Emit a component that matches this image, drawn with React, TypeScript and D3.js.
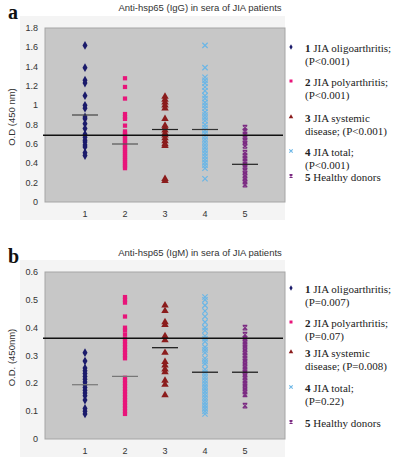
import * as d3 from "d3";
import { useEffect, useRef } from "react";

// group labels on the x axis
const groups = [1, 2, 3, 4, 5];
const groupColors = ["#1b1b6b", "#e8157a", "#8b1c1c", "#6bb6e6", "#7b2a82"];

// panel a: IgG
const igg1 = [1.62, 1.39, 1.26, 1.23, 1.1, 1.0, 0.97, 0.88, 0.86, 0.81, 0.76, 0.7, 0.67, 0.64, 0.62, 0.59, 0.57, 0.51, 0.48];
const igg2 = [1.28, 1.19, 1.07, 0.91, 0.88, 0.86, 0.79, 0.73, 0.71, 0.69, 0.67, 0.65, 0.63, 0.61, 0.59, 0.57, 0.55, 0.53, 0.51, 0.49, 0.47, 0.45, 0.43, 0.41, 0.39, 0.37, 0.35];
const igg3 = [1.09, 1.06, 1.03, 1.0, 0.97, 0.86, 0.79, 0.77, 0.74, 0.71, 0.69, 0.66, 0.63, 0.6, 0.58, 0.24, 0.22];
const igg4 = [1.62, 1.39, 1.29, 1.26, 1.23, 1.19, 1.15, 1.1, 1.07, 1.03, 1.0, 0.97, 0.93, 0.9, 0.87, 0.84, 0.8, 0.77, 0.74, 0.71, 0.68, 0.65, 0.62, 0.59, 0.56, 0.53, 0.5, 0.47, 0.44, 0.41, 0.38, 0.35, 0.24];
const igg5 = [0.77, 0.73, 0.7, 0.67, 0.64, 0.61, 0.58, 0.51, 0.48, 0.45, 0.42, 0.39, 0.36, 0.33, 0.3, 0.27, 0.24, 0.21, 0.18];
const iggMeans = [0.9, 0.6, 0.75, 0.75, 0.39];
const iggCutoff = 0.69;
const iggTicks = [0, 0.2, 0.4, 0.6, 0.8, 1, 1.2, 1.4, 1.6, 1.8];
const iggLegend = [
  ["1", " JIA oligoarthritis;", "(P<0.001)"],
  ["2", " JIA polyarthritis;", "(P<0.001)"],
  ["3", " JIA systemic", "disease; (P<0.001)"],
  ["4", " JIA total;", "(P<0.001)"],
  ["5", " Healthy donors"],
];

// panel b: IgM
const igm1 = [0.31, 0.28, 0.255, 0.245, 0.235, 0.225, 0.215, 0.205, 0.195, 0.185, 0.175, 0.165, 0.155, 0.14, 0.11, 0.1, 0.09];
const igm2 = [0.51, 0.5, 0.49, 0.44, 0.4, 0.39, 0.375, 0.36, 0.35, 0.34, 0.33, 0.32, 0.31, 0.3, 0.29, 0.22, 0.21, 0.2, 0.19, 0.18, 0.17, 0.16, 0.15, 0.14, 0.13, 0.12, 0.11, 0.1, 0.09];
const igm3 = [0.48, 0.46, 0.42, 0.41, 0.37, 0.355, 0.31, 0.277, 0.265, 0.25, 0.24, 0.21, 0.195, 0.158];
const igm4 = [0.51, 0.5, 0.48, 0.46, 0.44, 0.42, 0.4, 0.39, 0.37, 0.36, 0.35, 0.33, 0.32, 0.31, 0.29, 0.28, 0.27, 0.25, 0.24, 0.23, 0.22, 0.21, 0.2, 0.19, 0.18, 0.17, 0.16, 0.15, 0.14, 0.13, 0.12, 0.11, 0.1, 0.09];
const igm5 = [0.4, 0.375, 0.36, 0.35, 0.34, 0.33, 0.32, 0.31, 0.3, 0.29, 0.28, 0.27, 0.26, 0.25, 0.24, 0.23, 0.22, 0.21, 0.2, 0.19, 0.18, 0.17, 0.16, 0.12];
const igmMeans = [0.195, 0.225, 0.328, 0.24, 0.24];
const igmCutoff = 0.362;
const igmTicks = [0, 0.1, 0.2, 0.3, 0.4, 0.5, 0.6];
const igmLegend = [
  ["1", " JIA oligoarthritis;", "(P=0.007)"],
  ["2", " JIA polyarthritis;", "(P=0.07)"],
  ["3", " JIA systemic", "disease; (P=0.008)"],
  ["4", " JIA total;", "(P=0.22)"],
  ["5", " Healthy donors"],
];

// X with little caps top and bottom, like the healthy donors marker
const symbolCappedX = {
  draw(ctx: any, size: number) {
    const r = Math.sqrt(size) / 2;
    ctx.moveTo(-r, -r);
    ctx.lineTo(r, r);
    ctx.moveTo(r, -r);
    ctx.lineTo(-r, r);
    ctx.moveTo(-r, -r);
    ctx.lineTo(r, -r);
    ctx.moveTo(-r, r);
    ctx.lineTo(r, r);
  },
};

const markerTypes: any[] = [d3.symbolDiamond, d3.symbolSquare, d3.symbolTriangle, d3.symbolX, symbolCappedX];
const markerSizes = [22, 18, 24, 20, 20];
const markerStroked = [false, false, false, true, true];

interface Panel {
  letter: string;
  title: string;
  yLabel: string;
  top: number;
  bottom: number;
  max: number;
  ticks: number[];
  series: number[][];
  means: number[];
  meanColors: string[];
  cutoff: number;
  legend: string[][];
  legendY: number[];
  titleY: number;
  letterY: number;
}

const panels: Panel[] = [
  {
    letter: "a",
    title: "Anti-hsp65 (IgG) in sera of JIA patients",
    yLabel: "O.D (450 nm)",
    top: 28,
    bottom: 202,
    max: 1.8,
    ticks: iggTicks,
    series: [igg1, igg2, igg3, igg4, igg5],
    means: iggMeans,
    meanColors: ["#444", "#555", "#222", "#333", "#222"],
    cutoff: iggCutoff,
    legend: iggLegend,
    legendY: [48, 82, 118, 152, 177],
    titleY: 11,
    letterY: 19,
  },
  {
    letter: "b",
    title: "Anti-hsp65 (IgM) in sera of JIA patients",
    yLabel: "O.D. (450nm)",
    top: 272,
    bottom: 439,
    max: 0.6,
    ticks: igmTicks,
    series: [igm1, igm2, igm3, igm4, igm5],
    means: igmMeans,
    meanColors: ["#777", "#777", "#111", "#111", "#111"],
    cutoff: igmCutoff,
    legend: igmLegend,
    legendY: [289, 323, 353, 388, 423],
    titleY: 256,
    letterY: 263,
  },
];

const App = () => {
  const ref = useRef<SVGSVGElement | null>(null);

  useEffect(() => {
    const svg = d3.select(ref.current);
    svg.selectAll("*").remove();

    const left = 45;
    const right = 285;
    const sans = "'Liberation Sans', Arial, sans-serif";
    const serif = "'Liberation Serif', 'Times New Roman', serif";

    const x = d3.scaleLinear().domain([0, 6]).range([left, right]);

    panels.forEach((p) => {
      const y = d3.scaleLinear().domain([0, p.max]).range([p.bottom, p.top]);
      const g = svg.append("g");

      // light chart area behind the plot
      g.append("rect")
        .attr("x", 20)
        .attr("y", p.top - 12)
        .attr("width", right - 20)
        .attr("height", p.bottom - p.top + 30)
        .attr("fill", "#f4f4f4");

      // plot background
      g.append("rect")
        .attr("x", left)
        .attr("y", p.top)
        .attr("width", right - left)
        .attr("height", p.bottom - p.top)
        .attr("fill", "#c7c7c7")
        .attr("stroke", "#a5a5a5")
        .attr("stroke-width", 1);

      // y tick labels
      g.selectAll("text.ytick")
        .data(p.ticks)
        .enter()
        .append("text")
        .attr("x", 38)
        .attr("y", (d) => y(d) + 3)
        .attr("text-anchor", "end")
        .style("font-family", sans)
        .style("font-size", "9px")
        .style("fill", "#333")
        .text((d) => d3.format("")(d));

      // x tick labels
      g.selectAll("text.xtick")
        .data(groups)
        .enter()
        .append("text")
        .attr("x", (d) => x(d))
        .attr("y", p.bottom + 15)
        .attr("text-anchor", "middle")
        .style("font-family", sans)
        .style("font-size", "9px")
        .style("fill", "#333")
        .text((d) => d);

      // points
      p.series.forEach((vals, i) => {
        const sym = d3.symbol().type(markerTypes[i]).size(markerSizes[i]);
        g.selectAll(`path.s${i}`)
          .data(vals)
          .enter()
          .append("path")
          .attr("transform", (d) => `translate(${x(groups[i])},${y(d)})`)
          .attr("d", sym() as string)
          .attr("fill", markerStroked[i] ? "none" : groupColors[i])
          .attr("stroke", markerStroked[i] ? groupColors[i] : "none")
          .attr("stroke-width", 1.2);
      });

      // cut-off line
      g.append("line")
        .attr("x1", left - 2)
        .attr("x2", right - 2)
        .attr("y1", y(p.cutoff))
        .attr("y2", y(p.cutoff))
        .attr("stroke", "#111")
        .attr("stroke-width", 1.6);

      // group means
      g.selectAll("line.mean")
        .data(p.means)
        .enter()
        .append("line")
        .attr("x1", (_, i) => x(groups[i]) - 13)
        .attr("x2", (_, i) => x(groups[i]) + 13)
        .attr("y1", (d) => y(d))
        .attr("y2", (d) => y(d))
        .attr("stroke", (_, i) => p.meanColors[i])
        .attr("stroke-width", 1.2);

      // title, panel letter, axis label
      svg.append("text")
        .attr("x", 200)
        .attr("y", p.titleY)
        .attr("text-anchor", "middle")
        .style("font-family", sans)
        .style("font-size", "9.5px")
        .style("fill", "#333")
        .text(p.title);

      svg.append("text")
        .attr("x", 8)
        .attr("y", p.letterY)
        .style("font-family", serif)
        .style("font-weight", "bold")
        .style("font-size", "20px")
        .style("fill", "#111")
        .text(p.letter);

      svg.append("text")
        .attr("transform", `translate(15,${(p.top + p.bottom) / 2 + 2}) rotate(-90)`)
        .attr("text-anchor", "middle")
        .style("font-family", sans)
        .style("font-size", "9.5px")
        .style("fill", "#333")
        .text(p.yLabel);

      // legend
      p.legend.forEach((entry, i) => {
        const cy = p.legendY[i];
        const sym = d3.symbol().type(markerTypes[i]).size(9);
        svg.append("path")
          .attr("transform", `translate(291,${cy - 1})`)
          .attr("d", sym() as string)
          .attr("fill", markerStroked[i] ? "none" : groupColors[i])
          .attr("stroke", markerStroked[i] ? groupColors[i] : "none")
          .attr("stroke-width", 1.1);

        const t = svg.append("text")
          .attr("x", 305)
          .attr("y", cy + 3.5)
          .style("font-family", serif)
          .style("font-size", "11px")
          .style("fill", "#222");
        t.append("tspan").style("font-weight", "bold").text(entry[0]);
        t.append("tspan").text(entry[1]);
        if (entry[2]) {
          svg.append("text")
            .attr("x", 305)
            .attr("y", cy + 17)
            .style("font-family", serif)
            .style("font-size", "11px")
            .style("fill", "#222")
            .text(entry[2]);
        }
      });
    });
  }, []);

  return (
    <svg
      ref={ref}
      width={395}
      height={466}
      style={{ position: "absolute", left: 0, top: 0, background: "#fff" }}
    ></svg>
  );
};

export default App;
